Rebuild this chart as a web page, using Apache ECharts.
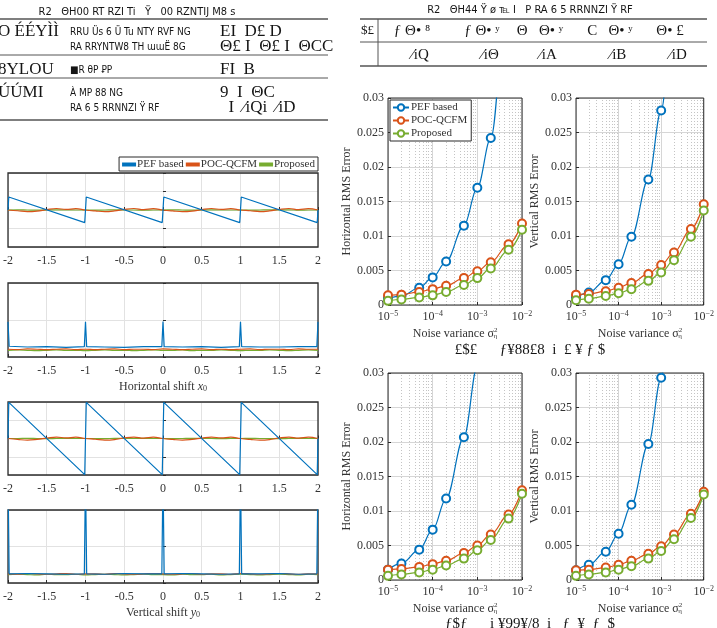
<!DOCTYPE html>
<html>
<head>
<meta charset="utf-8">
<script src="https://cdn.jsdelivr.net/npm/echarts@6/dist/echarts.min.js"></script>
<style>
  html, body { margin: 0; padding: 0; background: #fff; }
  #chart { width: 717px; height: 628px; }
</style>
</head>
<body>
<div id="chart"></div>
<script>
// series names
var methods = ['PEF based', 'POC-QCFM', 'Proposed']
var colors = ['#0072BD', '#D95319', '#77AC30']

// left panels: shift axis samples
var shiftGrid = [-2, -1.875, -1.75, -1.625, -1.5, -1.375, -1.25, -1.125, -1, -0.875, -0.75, -0.625, -0.5, -0.375, -0.25, -0.125,
  0, 0.125, 0.25, 0.375, 0.5, 0.625, 0.75, 0.875, 1, 1.125, 1.25, 1.375, 1.5, 1.625, 1.75, 1.875, 2]

// estimation error vs horizontal shift
var pefHx = [[-2, 0], [-1.99, 0.7], [-1.01, -0.68], [-1, 0], [-0.99, 0.7], [-0.01, -0.68], [0, 0], [0.01, 0.7],
  [0.99, -0.68], [1, 0], [1.01, 0.7], [1.99, -0.68], [2, 0]]
var pocHx = [0, -0.04, -0.09, -0.06, 0.02, 0.08, 0.03, 0.07, 0, -0.05, -0.09, -0.05, 0.03, 0.08, 0.02, 0.07,
  0, -0.05, -0.09, -0.06, 0.02, 0.08, 0.03, 0.07, 0, -0.04, -0.09, -0.05, 0.03, 0.08, 0.02, 0.07, 0]
var propHx = [0, 0.01, 0, -0.01, 0, 0.01, 0.01, 0, 0, -0.01, 0, 0.01, 0, 0, -0.01, 0,
  0, 0.01, 0, -0.01, 0, 0.01, 0, 0, 0, -0.01, 0, 0.01, 0, 0.01, -0.01, 0, 0]

// RMS error vs horizontal shift
var pefHrms = [[-2, 0.95], [-1.985, 0.29], [-1.75, 0.27], [-1.5, 0.28], [-1.25, 0.26], [-1.015, 0.28], [-1, 0.95],
  [-0.985, 0.28], [-0.75, 0.27], [-0.5, 0.26], [-0.25, 0.28], [-0.015, 0.28], [0, 0.96], [0.015, 0.28], [0.25, 0.27],
  [0.5, 0.28], [0.75, 0.26], [0.985, 0.28], [1, 0.95], [1.015, 0.28], [1.25, 0.27], [1.5, 0.27], [1.75, 0.28],
  [1.985, 0.28], [2, 0.95]]
var pocHrms = [0.21, 0.2, 0.22, 0.21, 0.2, 0.21, 0.22, 0.2, 0.21, 0.2, 0.21, 0.22, 0.2, 0.21, 0.21, 0.2,
  0.22, 0.21, 0.2, 0.21, 0.22, 0.2, 0.21, 0.2, 0.21, 0.22, 0.2, 0.21, 0.21, 0.2, 0.22, 0.21, 0.21]
var propHrms = [0.18, 0.19, 0.18, 0.17, 0.18, 0.19, 0.18, 0.18, 0.17, 0.18, 0.19, 0.18, 0.18, 0.17, 0.18, 0.19,
  0.18, 0.18, 0.19, 0.17, 0.18, 0.18, 0.19, 0.18, 0.17, 0.18, 0.18, 0.19, 0.18, 0.17, 0.18, 0.19, 0.18]

// estimation error vs vertical shift
var pefVy = [[-2, 0], [-1.99, 1.98], [-1.01, -1.98], [-1, 0], [-0.99, 1.98], [-0.01, -1.98], [0, 0], [0.01, 1.98],
  [0.99, -1.98], [1, 0], [1.01, 1.98], [1.99, -1.98], [2, 0]]
var pocVy = [0, -0.05, -0.09, -0.05, 0.02, 0.08, 0.03, 0.07, 0, -0.04, -0.09, -0.06, 0.03, 0.08, 0.02, 0.07,
  0, -0.05, -0.09, -0.05, 0.02, 0.08, 0.03, 0.07, 0, -0.05, -0.09, -0.06, 0.03, 0.08, 0.02, 0.07, 0]
var propVy = [0, 0, 0.01, 0, -0.01, 0, 0.01, 0, 0, 0, -0.01, 0.01, 0, 0, 0.01, 0,
  0, -0.01, 0, 0.01, 0, 0, -0.01, 0, 0, 0.01, 0, 0, -0.01, 0, 0.01, 0, 0]

// RMS error vs vertical shift
var pefVrms = [[-2, 3], [-1.985, 0.25], [-1.75, 0.26], [-1.5, 0.25], [-1.25, 0.24], [-1.015, 0.25], [-1, 3],
  [-0.985, 0.25], [-0.75, 0.24], [-0.5, 0.26], [-0.25, 0.25], [-0.015, 0.25], [0, 3], [0.015, 0.25], [0.25, 0.26],
  [0.5, 0.25], [0.75, 0.24], [0.985, 0.25], [1, 3], [1.015, 0.25], [1.25, 0.25], [1.5, 0.26], [1.75, 0.24],
  [1.985, 0.25], [2, 3]]
var pocVrms = [0.25, 0.24, 0.26, 0.25, 0.24, 0.25, 0.26, 0.24, 0.25, 0.25, 0.24, 0.26, 0.25, 0.24, 0.25, 0.26,
  0.25, 0.24, 0.25, 0.26, 0.24, 0.25, 0.25, 0.24, 0.26, 0.25, 0.24, 0.25, 0.26, 0.25, 0.24, 0.25, 0.25]
var propVrms = [0.23, 0.24, 0.23, 0.22, 0.24, 0.23, 0.23, 0.24, 0.22, 0.23, 0.24, 0.23, 0.22, 0.23, 0.24, 0.23,
  0.23, 0.22, 0.24, 0.23, 0.23, 0.24, 0.22, 0.23, 0.24, 0.23, 0.22, 0.23, 0.24, 0.23, 0.22, 0.24, 0.23]

// right panels: noise variance
var noiseVar = [1e-5, 2e-5, 5e-5, 1e-4, 2e-4, 5e-4, 1e-3, 2e-3, 5e-3, 1e-2]
// (a) horizontal
var pefA = [0.0010, 0.0013, 0.0025, 0.0040, 0.0063, 0.0115, 0.0170, 0.0242, 0.048, 0.075]
var pocA = [0.0014, 0.0015, 0.0019, 0.0023, 0.0028, 0.0039, 0.0049, 0.0062, 0.0088, 0.0118]
var propA = [0.0006, 0.0008, 0.0011, 0.0014, 0.0019, 0.0029, 0.0039, 0.0053, 0.0080, 0.0109]
// (a) vertical
var pefB = [0.0011, 0.0018, 0.0036, 0.0059, 0.0099, 0.0182, 0.0282, 0.045, 0.08, 0.12]
var pocB = [0.0015, 0.0016, 0.0020, 0.0025, 0.0032, 0.0045, 0.0058, 0.0076, 0.0110, 0.0146]
var propB = [0.0007, 0.0009, 0.0013, 0.0017, 0.0023, 0.0035, 0.0047, 0.0065, 0.0099, 0.0137]
// (b) horizontal
var pefC = [0.0015, 0.0024, 0.0044, 0.0073, 0.0118, 0.0207, 0.0310, 0.050, 0.09, 0.13]
var pocC = [0.0015, 0.0016, 0.0019, 0.0023, 0.0028, 0.0039, 0.0050, 0.0066, 0.0095, 0.0130]
var propC = [0.0006, 0.0008, 0.0011, 0.0015, 0.0021, 0.0031, 0.0043, 0.0058, 0.0089, 0.0125]
// (b) vertical
var pefD = [0.0014, 0.0022, 0.0041, 0.0067, 0.0109, 0.0197, 0.0293, 0.048, 0.085, 0.125]
var pocD = [0.0014, 0.0015, 0.0018, 0.0022, 0.0028, 0.0038, 0.0049, 0.0066, 0.0096, 0.0128]
var propD = [0.0006, 0.0008, 0.0011, 0.0015, 0.0020, 0.0031, 0.0042, 0.0059, 0.0090, 0.0124]

// minor log grid positions
var decades = [1e-5, 1e-4, 1e-3]
var minorSteps = [2, 3, 4, 5, 6, 7, 8, 9]

var serif = '"Liberation Serif", "DejaVu Serif", serif'
var narrow = '"Liberation Sans Narrow", "DejaVu Sans Condensed", sans-serif'
var axisColor = '#2b2b2b'
var textColor = '#333'

function pairs (xs, ys) {
  return xs.map(function (x, i) { return [x, ys[i]] })
}

var chart = echarts.init(document.getElementById('chart'))

var grids = []
var xAxes = []
var yAxes = []
var series = []

// ---------- right panels (first, so the legend takes the marker icon) ----------
var rightPanels = [
  { left: 388, top: 98, width: 134, yName: 'Horizontal RMS Error', data: [pefA, pocA, propA] },
  { left: 576, top: 98, width: 133, yName: 'Vertical RMS Error', data: [pefB, pocB, propB] },
  { left: 388, top: 373, width: 134, yName: 'Horizontal RMS Error', data: [pefC, pocC, propC] },
  { left: 576, top: 373, width: 133, yName: 'Vertical RMS Error', data: [pefD, pocD, propD] }
]

var minorPos = []
decades.forEach(function (d) {
  minorSteps.forEach(function (m) { minorPos.push([d * m]) })
})

rightPanels.forEach(function (p) {
  var gi = grids.length
  grids.push({ left: p.left, top: p.top, width: p.width, height: 207, show: true, borderColor: axisColor, borderWidth: 1, z: 3 })
  xAxes.push({
    gridIndex: gi,
    type: 'log',
    logBase: 10,
    min: 1e-5,
    max: 1e-2,
    axisLine: { show: false },
    axisTick: { inside: true, length: 3, lineStyle: { color: axisColor } },
    splitLine: { show: true, lineStyle: { color: '#d6d6d6', width: 1 } },
    axisLabel: {
      margin: 5,
      color: textColor,
      fontFamily: serif,
      fontSize: 12,
      formatter: function (v) {
        return '10{sup|\u2212' + Math.abs(Math.round(Math.log10(v))) + '}'
      },
      rich: { sup: { fontSize: 8, fontFamily: serif, color: textColor, verticalAlign: 'top', padding: [0, 0, 6, 0] } }
    },
    name: 'Noise variance \u03c3{sup|2}{sub|\u03b7}',
    nameLocation: 'middle',
    nameGap: 22,
    nameTextStyle: {
      color: textColor,
      fontFamily: serif,
      fontSize: 12,
      rich: {
        sup: { fontSize: 7, fontFamily: serif, color: textColor, padding: [0, 0, 7, 0] },
        sub: { fontSize: 7, fontFamily: serif, color: textColor, padding: [4, 0, 0, -4] }
      }
    }
  })
  yAxes.push({
    gridIndex: gi,
    type: 'value',
    min: 0,
    max: 0.03,
    interval: 0.005,
    axisLine: { show: false },
    axisTick: { inside: true, length: 3, lineStyle: { color: axisColor } },
    splitLine: { show: true, lineStyle: { color: '#d6d6d6', width: 1 } },
    axisLabel: { margin: 4, color: textColor, fontFamily: serif, fontSize: 12 },
    name: p.yName,
    nameLocation: 'middle',
    nameGap: 33,
    nameTextStyle: { color: textColor, fontFamily: serif, fontSize: 12 }
  })
  // dotted minor grid of the log axis
  series.push({
    type: 'custom',
    xAxisIndex: gi,
    yAxisIndex: gi,
    silent: true,
    z: 1,
    data: minorPos,
    encode: { x: 0 },
    renderItem: function (params, api) {
      var a = api.coord([api.value(0), 0])
      var b = api.coord([api.value(0), 0.03])
      return {
        type: 'line',
        shape: { x1: Math.round(a[0]) + 0.5, y1: a[1], x2: Math.round(a[0]) + 0.5, y2: b[1] },
        style: { stroke: '#c4c4c4', lineWidth: 1, lineDash: [1, 2] }
      }
    }
  })
  p.data.forEach(function (ys, k) {
    series.push({
      name: methods[k],
      type: 'line',
      xAxisIndex: gi,
      yAxisIndex: gi,
      data: pairs(noiseVar, ys),
      smooth: 0.35,
      smoothMonotone: 'x',
      symbol: 'emptyCircle',
      symbolSize: 8,
      clip: true,
      z: 4,
      lineStyle: { color: colors[k], width: 1.2 },
      itemStyle: { color: colors[k], borderColor: colors[k], borderWidth: 1.2 }
    })
  })
})

// ---------- left panels ----------
var leftPanels = [
  { top: 173, height: 74, min: -2, xName: null, data: [pefHx, pocHx, propHx] },
  { top: 283, height: 74, min: 0, xName: 'Horizontal shift {i|x}{sub|0}', data: [pefHrms, pocHrms, propHrms] },
  { top: 402, height: 73, min: -2, xName: null, data: [pefVy, pocVy, propVy] },
  { top: 510, height: 73, min: 0, xName: 'Vertical shift {i|y}{sub|0}', data: [pefVrms, pocVrms, propVrms] }
]

leftPanels.forEach(function (p) {
  var gi = grids.length
  grids.push({ left: 3, top: p.top, width: 315, height: p.height, show: true, borderColor: axisColor, borderWidth: 1.3, z: 3 })
  xAxes.push({
    gridIndex: gi,
    type: 'value',
    min: -2,
    max: 2,
    interval: 0.5,
    axisLine: { show: false },
    axisTick: { inside: true, length: 3, lineStyle: { color: axisColor } },
    splitLine: { show: true, lineStyle: { color: '#e2e2e2', width: 1 } },
    axisLabel: { margin: 8, color: textColor, fontFamily: serif, fontSize: 12 },
    name: p.xName || '',
    nameLocation: 'middle',
    nameGap: 23,
    nameTextStyle: {
      color: textColor,
      fontFamily: serif,
      fontSize: 12,
      rich: {
        i: { fontStyle: 'italic', fontFamily: serif, fontSize: 12, color: textColor },
        sub: { fontSize: 8, fontFamily: serif, color: textColor, padding: [5, 0, 0, 0] }
      }
    }
  })
  yAxes.push({
    gridIndex: gi,
    type: 'value',
    min: p.min,
    max: 2,
    interval: 1,
    axisLine: { show: false },
    axisTick: { inside: true, length: 3, lineStyle: { color: axisColor } },
    splitLine: { show: true, lineStyle: { color: '#e2e2e2', width: 1 } },
    axisLabel: { show: false }
  })
  p.data.forEach(function (ys, k) {
    var d = (k === 0) ? ys : pairs(shiftGrid, ys)
    series.push({
      name: methods[k],
      type: 'line',
      xAxisIndex: gi,
      yAxisIndex: gi,
      data: d,
      smooth: k === 0 ? false : 0.4,
      showSymbol: false,
      symbol: 'none',
      clip: true,
      z: 4 - k * 0.1,
      lineStyle: { color: colors[k], width: 1.2 },
      itemStyle: { color: colors[k] }
    })
  })
})

// ---------- tables and captions (garbled text as printed) ----------
var graphic = []
function text (x, y, s, size, font, align) {
  graphic.push({
    type: 'text', x: x, y: y, silent: true,
    style: { text: s, fill: '#151515', font: size + 'px ' + font, textAlign: align || 'left', textVerticalAlign: 'middle' }
  })
}
function rule (x1, x2, y, w) {
  graphic.push({ type: 'line', silent: true, shape: { x1: x1, y1: y, x2: x2, y2: y }, style: { stroke: '#555', lineWidth: w || 1.2 } })
}

var table1Title = 'R2   \u0398H00 RT RZI Ti   \u0178   00 RZNTIJ M8 s'
var table1Col1 = ['O \u00c9\u00c9Y\u00cc\u00cc', '', '8YLOU', '\u00da\u00daMI', '']
var table1Col2 = ['RRU \u00dcs 6 \u00dc Tu NTY RVF NG', 'RA RRYNTW8 TH \u026f\u026f\u00cb 8G', '\u25a0R \u03b8P \ua750P', '\u00c0 MP 88 NG', 'RA 6 5 RRNNZI \u0178 RF']
var table1Col3 = ['EI  D\u00a3 D', '\u0398\u00a3 I  \u0398\u00a3 I  \u0398CC', 'FI  B', '9  I  \u0398C', '  I  \u2044iQi  \u2044iD']
var table1RowY = [32, 47, 70, 93, 108]

text(137, 12, table1Title, 11, narrow, 'center')
rule(0, 328, 19, 1.6)
rule(0, 328, 55, 1)
rule(0, 328, 78, 1)
rule(0, 328, 120, 1.6)
table1RowY.forEach(function (y, i) {
  text(-2, y, table1Col1[i], 17, serif)
  text(70, y, table1Col2[i], 10, narrow)
  text(220, y, table1Col3[i], 17, serif)
})

var table2Title = 'R2   \u0398H44 \u0178 \u00f8 \u2121 I   P RA 6 5 RRNNZI \u0178 RF'
var table2Row1 = ['\u0192 \u0398\u2022 \u2078', '\u0192 \u0398\u2022 \u02b8', '\u0398   \u0398\u2022 \u02b8', 'C   \u0398\u2022 \u02b8', '\u0398\u2022 \u00a3']
var table2Row2 = ['\u2044iQ', '\u2044i\u0398', '\u2044iA', '\u2044iB', '\u2044iD']
var table2ColX = [412, 482, 540, 610, 670]

text(530, 10, table2Title, 11, narrow, 'center')
rule(360, 707, 19, 1.6)
rule(360, 707, 42, 1)
rule(360, 707, 66, 1.6)
graphic.push({ type: 'line', silent: true, shape: { x1: 378, y1: 19, x2: 378, y2: 66 }, style: { stroke: '#555', lineWidth: 1 } })
text(361, 31, '$\u00a3', 13, serif)
table2ColX.forEach(function (x, i) {
  text(x, 31, table2Row1[i], 15, serif, 'center')
  text(x + 8, 55, table2Row2[i], 15, serif, 'center')
})

text(530, 350, '\u00a3$\u00a3      \u0192\u00a588\u00a38  i  \u00a3 \u00a5 \u0192 $', 15, serif, 'center')
text(530, 624, '\u0192$\u0192      i \u00a599\u00a5/8  i   \u0192  \u00a5  \u0192  $', 15, serif, 'center')

chart.setOption({
  animation: false,
  backgroundColor: '#fff',
  legend: [{
    orient: 'vertical',
    left: 390,
    top: 100,
    data: methods,
    backgroundColor: '#fff',
    borderColor: axisColor,
    borderWidth: 1,
    padding: [2, 4, 2, 2],
    itemGap: 2,
    itemWidth: 16,
    itemHeight: 8,
    textStyle: { fontFamily: serif, fontSize: 11, color: textColor, padding: [0, 0, 0, -3] },
    z: 10
  }, {
    orient: 'horizontal',
    right: 399,
    top: 157,
    data: methods.map(function (m) { return { name: m, icon: 'rect' } }),
    backgroundColor: '#fff',
    borderColor: axisColor,
    borderWidth: 1,
    padding: [2, 3, 1, 3],
    itemGap: 2,
    itemWidth: 12,
    itemHeight: 2,
    textStyle: { fontFamily: serif, fontSize: 11, color: textColor, padding: [0, 0, 0, -3] },
    z: 10
  }],
  grid: grids,
  xAxis: xAxes,
  yAxis: yAxes,
  series: series,
  graphic: graphic
})
</script>
</body>
</html>
